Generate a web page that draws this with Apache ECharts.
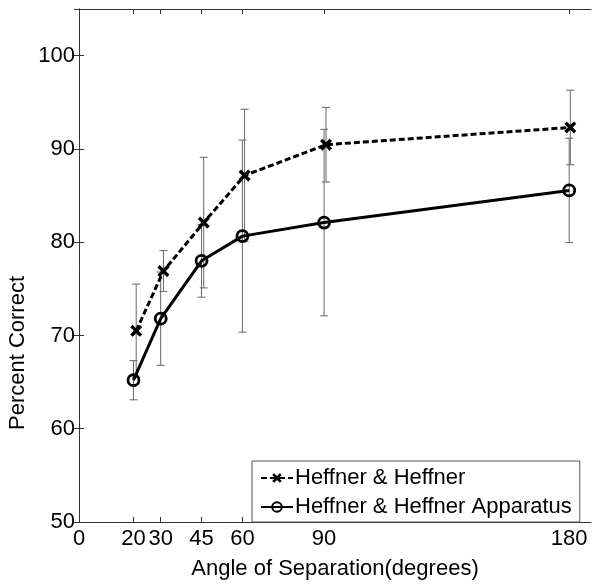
<!DOCTYPE html>
<html>
<head>
<meta charset="utf-8">
<script src="https://cdn.jsdelivr.net/npm/echarts@6/dist/echarts.min.js"></script>
<style>
  html, body { margin: 0; padding: 0; background: #fff; }
  #chart { width: 592px; height: 585px; }
</style>
</head>
<body>
<div id="chart"></div>
<script>
// x ticks (degrees) and y ticks
const xTicks = [0, 20, 30, 45, 60, 90, 180]
const angles = [20, 30, 45, 60, 90, 180]
// Heffner & Heffner plotted slightly right of the apparatus points
const hhAngles = [21, 31, 45.8, 60.8, 90.7, 180.4]
const hhMean = [70.5, 76.9, 82.1, 87.15, 90.45, 92.3]
const hhErr = [5.0, 2.2, 7.0, 7.1, 4.0, 4.0]
const appMean = [65.2, 71.8, 78.0, 80.65, 82.1, 85.55]
const appErr = [2.1, 5.0, 3.9, 10.3, 10.0, 5.6]

const font = 'Liberation Sans, Arial, sans-serif'
const axisColor = '#333'

function errData(xs, mean, err) {
  return xs.map((x, i) => [x, mean[i] - err[i], mean[i] + err[i]])
}

function renderErr(params, api) {
  const x = api.value(0)
  const bot = api.coord([x, api.value(1)])
  const top = api.coord([x, api.value(2)])
  const w = 4
  const st = { stroke: '#666', lineWidth: 1 }
  return {
    type: 'group',
    children: [
      { type: 'line', shape: { x1: top[0], y1: top[1], x2: bot[0], y2: bot[1] }, style: st },
      { type: 'line', shape: { x1: top[0] - w, y1: top[1], x2: top[0] + w, y2: top[1] }, style: st },
      { type: 'line', shape: { x1: bot[0] - w, y1: bot[1], x2: bot[0] + w, y2: bot[1] }, style: st }
    ]
  }
}

// thick "x" marker
const crossPath = 'path://M0,2L2,0L5,3L8,0L10,2L7,5L10,8L8,10L5,7L2,10L0,8L3,5Z'

const chart = echarts.init(document.getElementById('chart'), null, { renderer: 'canvas' })

const baseX = {
  type: 'value', min: 0, max: 188,
  axisLine: { lineStyle: { color: axisColor, width: 1 } },
  splitLine: { show: false }
}
const baseY = {
  type: 'value', min: 50, max: 105, interval: 10,
  axisLine: { show: true, lineStyle: { color: axisColor, width: 1 } },
  splitLine: { show: false }
}

chart.setOption({
  animation: false,
  textStyle: { fontFamily: font },
  grid: { left: 79, right: 1, top: 9, bottom: 59 },
  xAxis: [
    Object.assign({}, baseX, {
      position: 'bottom',
      name: 'Angle of Separation(degrees)',
      nameLocation: 'middle',
      nameGap: 36,
      nameTextStyle: { fontSize: 22, color: '#000', fontFamily: font },
      axisTick: { inside: true, length: 5, customValues: xTicks, lineStyle: { color: axisColor } },
      axisLabel: { customValues: xTicks, fontSize: 22, color: '#000', margin: 6, fontFamily: font }
    }),
    Object.assign({}, baseX, {
      position: 'top',
      axisTick: { inside: true, length: 5, customValues: xTicks, lineStyle: { color: axisColor } },
      axisLabel: { show: false }
    })
  ],
  yAxis: [
    Object.assign({}, baseY, {
      position: 'left',
      axisTick: { inside: true, length: 5, lineStyle: { color: axisColor } },
      axisLabel: { fontSize: 22, color: '#000', margin: 4, showMaxLabel: false, fontFamily: font }
    }),
    Object.assign({}, baseY, {
      position: 'right',
      axisTick: { inside: true, length: 5, lineStyle: { color: axisColor } },
      axisLabel: { show: false }
    })
  ],
  graphic: [{
    type: 'text',
    x: 18, y: 353,
    rotation: Math.PI / 2,
    style: {
      text: 'Percent Correct',
      font: '22px ' + font,
      fill: '#000',
      align: 'center',
      verticalAlign: 'middle'
    }
  }],
  legend: {
    orient: 'vertical',
    left: 252,
    bottom: 63,
    width: 338,
    padding: [6, 8, 4, 8],
    itemGap: 7,
    itemWidth: 32,
    itemHeight: 12,
    borderColor: '#555',
    borderWidth: 1,
    backgroundColor: '#fff',
    textStyle: { fontSize: 22, color: '#000', fontFamily: font, padding: [0, 0, 0, -3] },
    data: ['Heffner & Heffner', 'Heffner & Heffner Apparatus']
  },
  series: [
    {
      type: 'custom',
      name: 'hhErr',
      renderItem: renderErr,
      data: errData(hhAngles, hhMean, hhErr),
      encode: { x: 0, y: [1, 2] },
      z: 1
    },
    {
      type: 'custom',
      name: 'appErr',
      renderItem: renderErr,
      data: errData(angles, appMean, appErr),
      encode: { x: 0, y: [1, 2] },
      z: 1
    },
    {
      type: 'line',
      name: 'Heffner & Heffner',
      data: hhAngles.map((a, i) => [a, hhMean[i]]),
      symbol: crossPath,
      symbolSize: 12,
      showAllSymbol: true,
      lineStyle: { color: '#000', width: 3, type: [6, 3] },
      itemStyle: { color: '#000' },
      z: 3
    },
    {
      type: 'line',
      name: 'Heffner & Heffner Apparatus',
      data: angles.map((a, i) => [a, appMean[i]]),
      symbol: 'circle',
      symbolSize: 11,
      showAllSymbol: true,
      lineStyle: { color: '#000', width: 3 },
      itemStyle: { color: 'rgba(0,0,0,0)', borderColor: '#000', borderWidth: 2.8 },
      z: 3
    }
  ]
})
</script>
</body>
</html>
